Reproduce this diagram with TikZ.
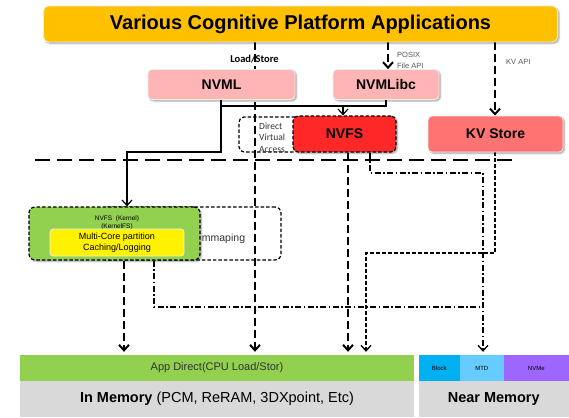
\documentclass[tikz,border=0pt]{standalone}
\usepackage{fontspec}
\setmainfont{Liberation Sans}
\newfontfamily\calib{Carlito}
\usetikzlibrary{arrows.meta,shadows.blur,backgrounds}

\definecolor{appgold}{HTML}{FFC000}
\definecolor{nvpink}{HTML}{FFB5B5}
\definecolor{nvred}{HTML}{FF2828}
\definecolor{kvred}{HTML}{FF7373}
\definecolor{kgreen}{HTML}{92D050}
\definecolor{memgray}{HTML}{D9D9D9}
\definecolor{blockblue}{HTML}{00B0F0}
\definecolor{mtdblue}{HTML}{66CCFF}
\definecolor{nvmepurple}{HTML}{9F66FF}
\definecolor{labelgray}{HTML}{555555}
\definecolor{textgray}{HTML}{333333}
\definecolor{rim}{HTML}{EDEDED}

\tikzset{
  softshadow/.style={blur shadow={shadow xshift=1.5pt, shadow yshift=-1.5pt,
      shadow blur radius=1.5pt, shadow opacity=35}},
  box/.style={rectangle, rounded corners=4pt, inner sep=0pt, softshadow,
      font=\bfseries\fontsize{14}{16}\selectfont},
  rimbox/.style={box, draw=rim, line width=0.8pt},
  dashbox/.style={box, draw=black, dash pattern=on 3.5pt off 2pt, line width=1.2pt},
  outlinebox/.style={rectangle, draw=black, dash pattern=on 3.5pt off 2pt,
      line width=1.2pt, inner sep=0pt},
  bar/.style={rectangle, inner sep=0pt},
  tip/.style={-{Straight Barb[length=5.5pt,width=10pt]}},
  heavy/.style={line width=2pt, dash pattern=on 8pt off 4pt},
  lightdash/.style={line width=1.3pt, dash pattern=on 4pt off 2pt},
  chainline/.style={line width=1.3pt, dash pattern=on 6pt off 2.5pt on 1.5pt off 2.5pt},
  solidline/.style={line width=1.2pt},
  separator/.style={line width=2.4pt, dash pattern=on 15pt off 7pt},
  smalllabel/.style={inner sep=0pt, text=labelgray, font=\fontsize{7.5}{9}\selectfont},
}

\begin{document}
\begin{tikzpicture}[x=1pt,y=-1pt]
\useasboundingbox (0,0) rectangle (569,417);

% upper layer boxes
\node[rimbox, fill=appgold, rounded corners=5pt, minimum width=514pt, minimum height=36pt,
      font=\bfseries\fontsize{20}{22}\selectfont] (apps) at (300.5,24)
      {Various Cognitive Platform Applications};
\node[rimbox, fill=nvpink, minimum width=147pt, minimum height=30pt] (nvml) at (221.5,84.5) {NVML};
\node[rimbox, fill=nvpink, minimum width=106pt, minimum height=30pt] (nvmlibc) at (386,84.5) {NVMLibc};
\node[dashbox, fill=nvred, rounded corners=5pt, minimum width=103pt, minimum height=36pt] (nvfs) at (344.5,134) {NVFS};
\node[rimbox, fill=kvred, minimum width=135pt, minimum height=36pt] (kv) at (495.5,134) {KV Store};

% kernel file system
\node[dashbox, fill=kgreen, rounded corners=6pt, minimum width=171pt, minimum height=53pt] (kern) at (114.5,233.5) {};
\node[inner sep=0pt, align=center, font=\fontsize{6.5}{8}\selectfont] (kname) at (117,223)
      {NVFS\ \ (Kernel)\\(KernelFS)};
\node[bar, fill=yellow, draw=rim, line width=0.8pt, rounded corners=3pt, minimum width=134pt,
      minimum height=27pt, align=center, font=\fontsize{9}{11}\selectfont] (cache) at (117,242.5)
      {Multi-Core partition\\Caching/Logging};

% memory bars
\node[bar, fill=kgreen, minimum width=394pt, minimum height=26pt, text=textgray,
      font=\fontsize{11}{13}\selectfont] (appdirect) at (217,368) {App Direct(CPU Load/Stor)};
\node[bar, fill=memgray, minimum width=394pt, minimum height=36pt,
      font=\fontsize{14.5}{16}\selectfont] (inmem) at (217,399)
      {\textbf{In Memory} (PCM, ReRAM, 3DXpoint, Etc)};
\node[bar, fill=blockblue, minimum width=41.5pt, minimum height=26pt,
      font=\fontsize{6}{7}\selectfont] (block) at (439.25,368) {Block};
\node[bar, fill=mtdblue, minimum width=43.5pt, minimum height=26pt,
      font=\fontsize{6}{7}\selectfont] (mtd) at (481.75,368) {MTD};
\node[bar, fill=nvmepurple, minimum width=65.5pt, minimum height=26pt,
      font=\fontsize{6}{7}\selectfont] (nvme) at (536.25,368) {NVMe};
\node[bar, fill=memgray, minimum width=150.5pt, minimum height=36pt,
      font=\bfseries\fontsize{14.5}{16}\selectfont] (nearmem) at (493.75,399) {Near Memory};

% labels
\node[inner sep=0pt, font=\calib\bfseries\fontsize{10.5}{12}\selectfont] (lslabel) at (254.5,59) {Load/Store};
\node[smalllabel, anchor=west] (kvapi) at (506,62) {KV API};
\node[anchor=west, inner sep=0pt, align=left, text=textgray,
      font=\calib\fontsize{9.5}{11.5}\selectfont] (dvalabel) at (259,137.5) {Direct\\Virtual\\Access};
\node[inner sep=0pt, text=textgray, font=\fontsize{10.5}{12}\selectfont] (mmaptext) at (223.5,239) {mmaping};

% column and row guides
\coordinate (cLS) at (255,0);
\coordinate (cPX) at (388,0);
\coordinate (cKV) at (495,0);
\coordinate (cNV) at (221,0);
\coordinate (cFS) at (343,0);
\coordinate (cKn) at (127,0);
\coordinate (cFSd) at (348,0);
\coordinate (cFSc) at (370,0);
\coordinate (cMTD) at (483,0);
\coordinate (cKVd) at (366,0);
\coordinate (cKd) at (124,0);
\coordinate (cKc) at (154,0);
\coordinate (rSplit) at (0,106);
\coordinate (rTurn) at (0,152);
\coordinate (rChainA) at (0,173);
\coordinate (rKV) at (0,253);
\coordinate (rChainB) at (0,307);

\begin{pgfonlayer}{background}
  % mapping regions
  \node[outlinebox, rounded corners=6pt, minimum width=181pt, minimum height=53pt] (mmap) at (190.5,233.5) {};
  \node[outlinebox, rounded corners=5pt, minimum width=61pt, minimum height=35pt] (dva) at (269.5,134.5) {};
  \node[smalllabel, anchor=west, align=left, font=\fontsize{7.5}{10.5}\selectfont] (posix) at (397,60.5) {POSIX\\File API};

  % user / kernel boundary
  \draw[separator] (35,160) -- (513,160);

  % access paths
  \draw[heavy, tip, shorten >=3pt] (apps.south -| cLS) -- (appdirect.north -| cLS);
  \draw[heavy, tip] (apps.south -| cPX) -- (nvmlibc.north -| cPX);
  \draw[heavy, tip] (apps.south -| cKV) -- (kv.north -| cKV);
  \draw[solidline] (nvml.south -| cNV) -- (rSplit -| cNV) -| (nvmlibc.south);
  \draw[solidline, tip] (rSplit -| cFS) -- (nvfs.north -| cFS);
  \draw[solidline, tip] (rSplit -| cNV) -- (rTurn -| cNV) -| (kern.north -| cKn);
  \draw[heavy, tip, shorten >=3pt] (nvfs.south -| cFSd) -- (appdirect.north -| cFSd);
  \draw[chainline, tip, shorten >=3pt] (nvfs.south -| cFSc) |- (rChainA -| cMTD) -- (mtd.north -| cMTD);
  \draw[lightdash, tip, shorten >=3pt] (kv.south -| cKV) |- (rKV -| cKVd) -- (appdirect.north -| cKVd);
  \draw[heavy, tip, shorten >=3pt] (kern.south -| cKd) -- (appdirect.north -| cKd);
  \draw[chainline] (kern.south -| cKc) |- (rChainB -| cMTD);
\end{pgfonlayer}
\end{tikzpicture}
\end{document}
